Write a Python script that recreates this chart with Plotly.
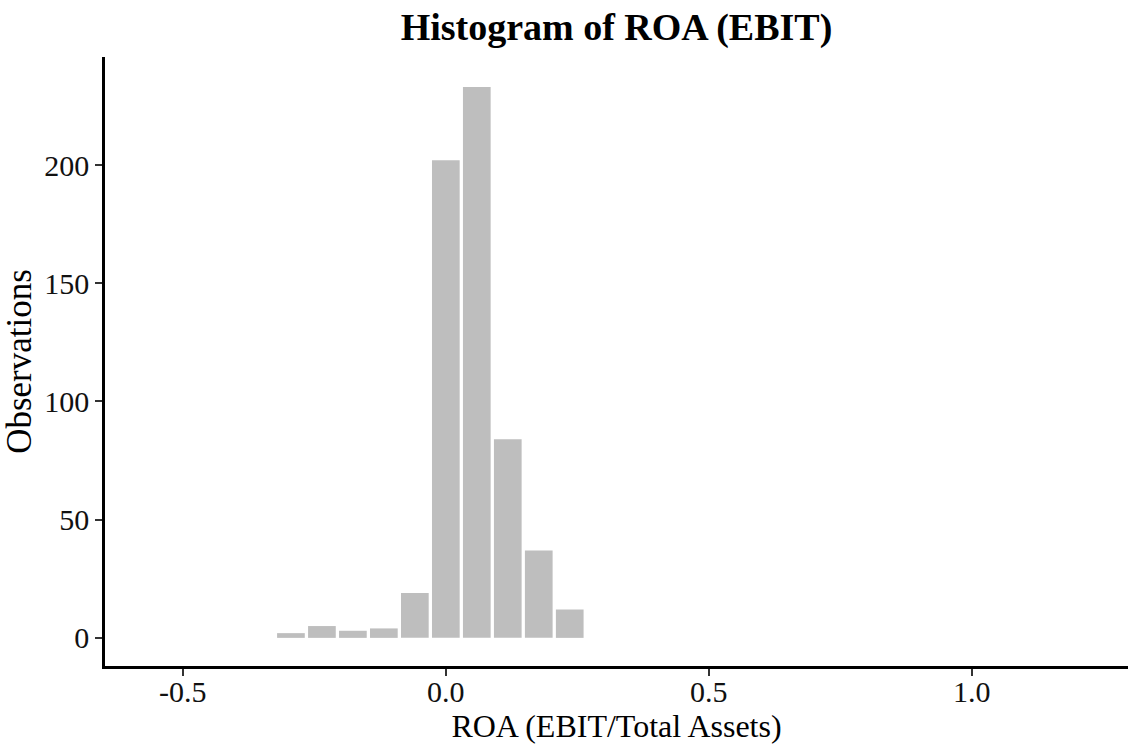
import plotly.graph_objects as go

# Histogram bins (width and centre index) and the counts in each bin
bin_width = 0.0589
bin_index = [-5, -4, -3, -2, -1, 0, 1, 2, 3, 4]
counts = [2, 5, 3, 4, 19, 202, 233, 84, 37, 12]

x_ticks = [-0.5, 0.0, 0.5, 1.0]
x_tick_labels = ["-0.5", "0.0", "0.5", "1.0"]
y_ticks = [0, 50, 100, 150, 200]
y_tick_labels = ["0", "50", "100", "150", "200"]

bin_centers = [k * bin_width for k in bin_index]

FONT = "Liberation Serif"

fig = go.Figure(
    go.Bar(
        x=bin_centers,
        y=counts,
        marker=dict(color="#BEBEBE", line=dict(width=0)),
        hoverinfo="x+y",
    )
)

fig.update_layout(
    width=1128,
    height=746,
    margin=dict(l=105, r=0, t=57, b=80),
    paper_bgcolor="white",
    plot_bgcolor="white",
    bargap=0.106,
    showlegend=False,
    font=dict(family=FONT, color="black"),
    title=dict(
        text="<b>Histogram of ROA (EBIT)</b>",
        font=dict(family=FONT, size=38, color="black"),
        x=0.5,
        xref="paper",
        xanchor="center",
        y=1 - 27 / 746,
        yref="container",
        yanchor="middle",
    ),
    xaxis=dict(
        range=[-0.648, 1.297],
        tickvals=x_ticks,
        ticktext=x_tick_labels,
        showgrid=False,
        zeroline=False,
        showline=True,
        linecolor="black",
        linewidth=2.5,
        ticks="outside",
        ticklen=7,
        tickwidth=2,
        tickcolor="#333333",
        ticklabelstandoff=-10,
        tickfont=dict(family=FONT, size=30, color="#111111"),
        title=dict(
            text="ROA (EBIT/Total Assets)",
            font=dict(family=FONT, size=32, color="black"),
            standoff=6,
        ),
    ),
    yaxis=dict(
        range=[-11.9, 245.7],
        tickvals=y_ticks,
        ticktext=y_tick_labels,
        showgrid=False,
        zeroline=False,
        showline=True,
        linecolor="black",
        linewidth=2.5,
        ticks="outside",
        ticklen=7,
        tickwidth=2,
        tickcolor="#333333",
        tickfont=dict(family=FONT, size=30, color="#111111"),
        title=dict(
            text="Observations",
            font=dict(family=FONT, size=35, color="black"),
            standoff=8,
        ),
    ),
)

fig.write_html("out.html")
